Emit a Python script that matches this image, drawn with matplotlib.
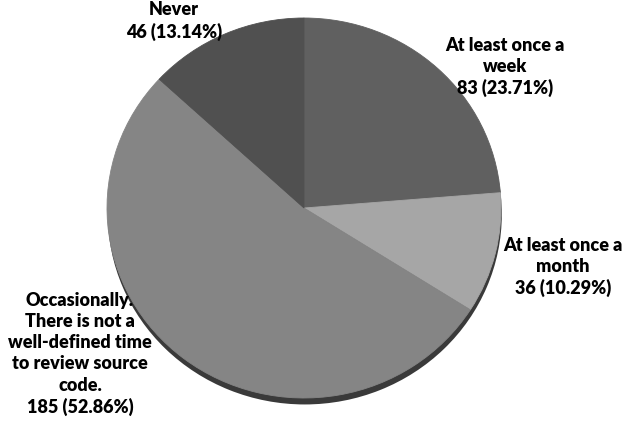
import matplotlib
matplotlib.use("Agg")
import matplotlib.pyplot as plt

# survey answers, clockwise from 12 o'clock
labels = [
    "At least once a\nweek",
    "At least once a\nmonth",
    "Occasionally.\nThere is not a\nwell-defined time\nto review source\ncode.",
    "Never",
]
counts = [83, 36, 185, 46]
percents = [23.71, 10.29, 52.86, 13.14]
colors = ["#606060", "#a6a6a6", "#858585", "#505050"]

# label anchor points in figure pixels (x, y from top)
label_pos = [(505, 67), (563, 267), (80, 354), (174, 21)]

W, H = 624, 427
fig = plt.figure(figsize=(W / 100, H / 100), dpi=100)
fig.patch.set_facecolor("white")

cx, cy, rx, ry = 304, 209, 197, 190
ax = fig.add_axes([(cx - rx) / W, (H - cy - ry) / H, 2 * rx / W, 2 * ry / H])

# drop shadow under the pie
shadow, _ = ax.pie([sum(counts)], colors=["#3a3a3a"], radius=1.0,
                   center=(0.004, -0.034), startangle=90, counterclock=False,
                   wedgeprops=dict(linewidth=0), frame=True)
for w in shadow:
    w.set_zorder(1)

wedges, _ = ax.pie(counts, colors=colors, radius=1.0, startangle=90,
                   counterclock=False, wedgeprops=dict(linewidth=0.6),
                   frame=True)
for w in wedges:
    w.set_edgecolor(w.get_facecolor())
    w.set_zorder(2)

# pie() forces an equal aspect; the original is slightly oval
ax.set_aspect("auto")
ax.set_xlim(-1, 1)
ax.set_ylim(-1, 1)
ax.axis("off")

for lab, n, p, (px, py) in zip(labels, counts, percents, label_pos):
    fig.text(px / W, 1 - py / H, f"{lab}\n{n} ({p:.2f}%)",
             ha="center", va="center", fontsize=13, fontweight="heavy",
             family=["Lato", "DejaVu Sans"], color="black", linespacing=1.3)

fig.savefig("out.png", dpi=100, facecolor="white")
